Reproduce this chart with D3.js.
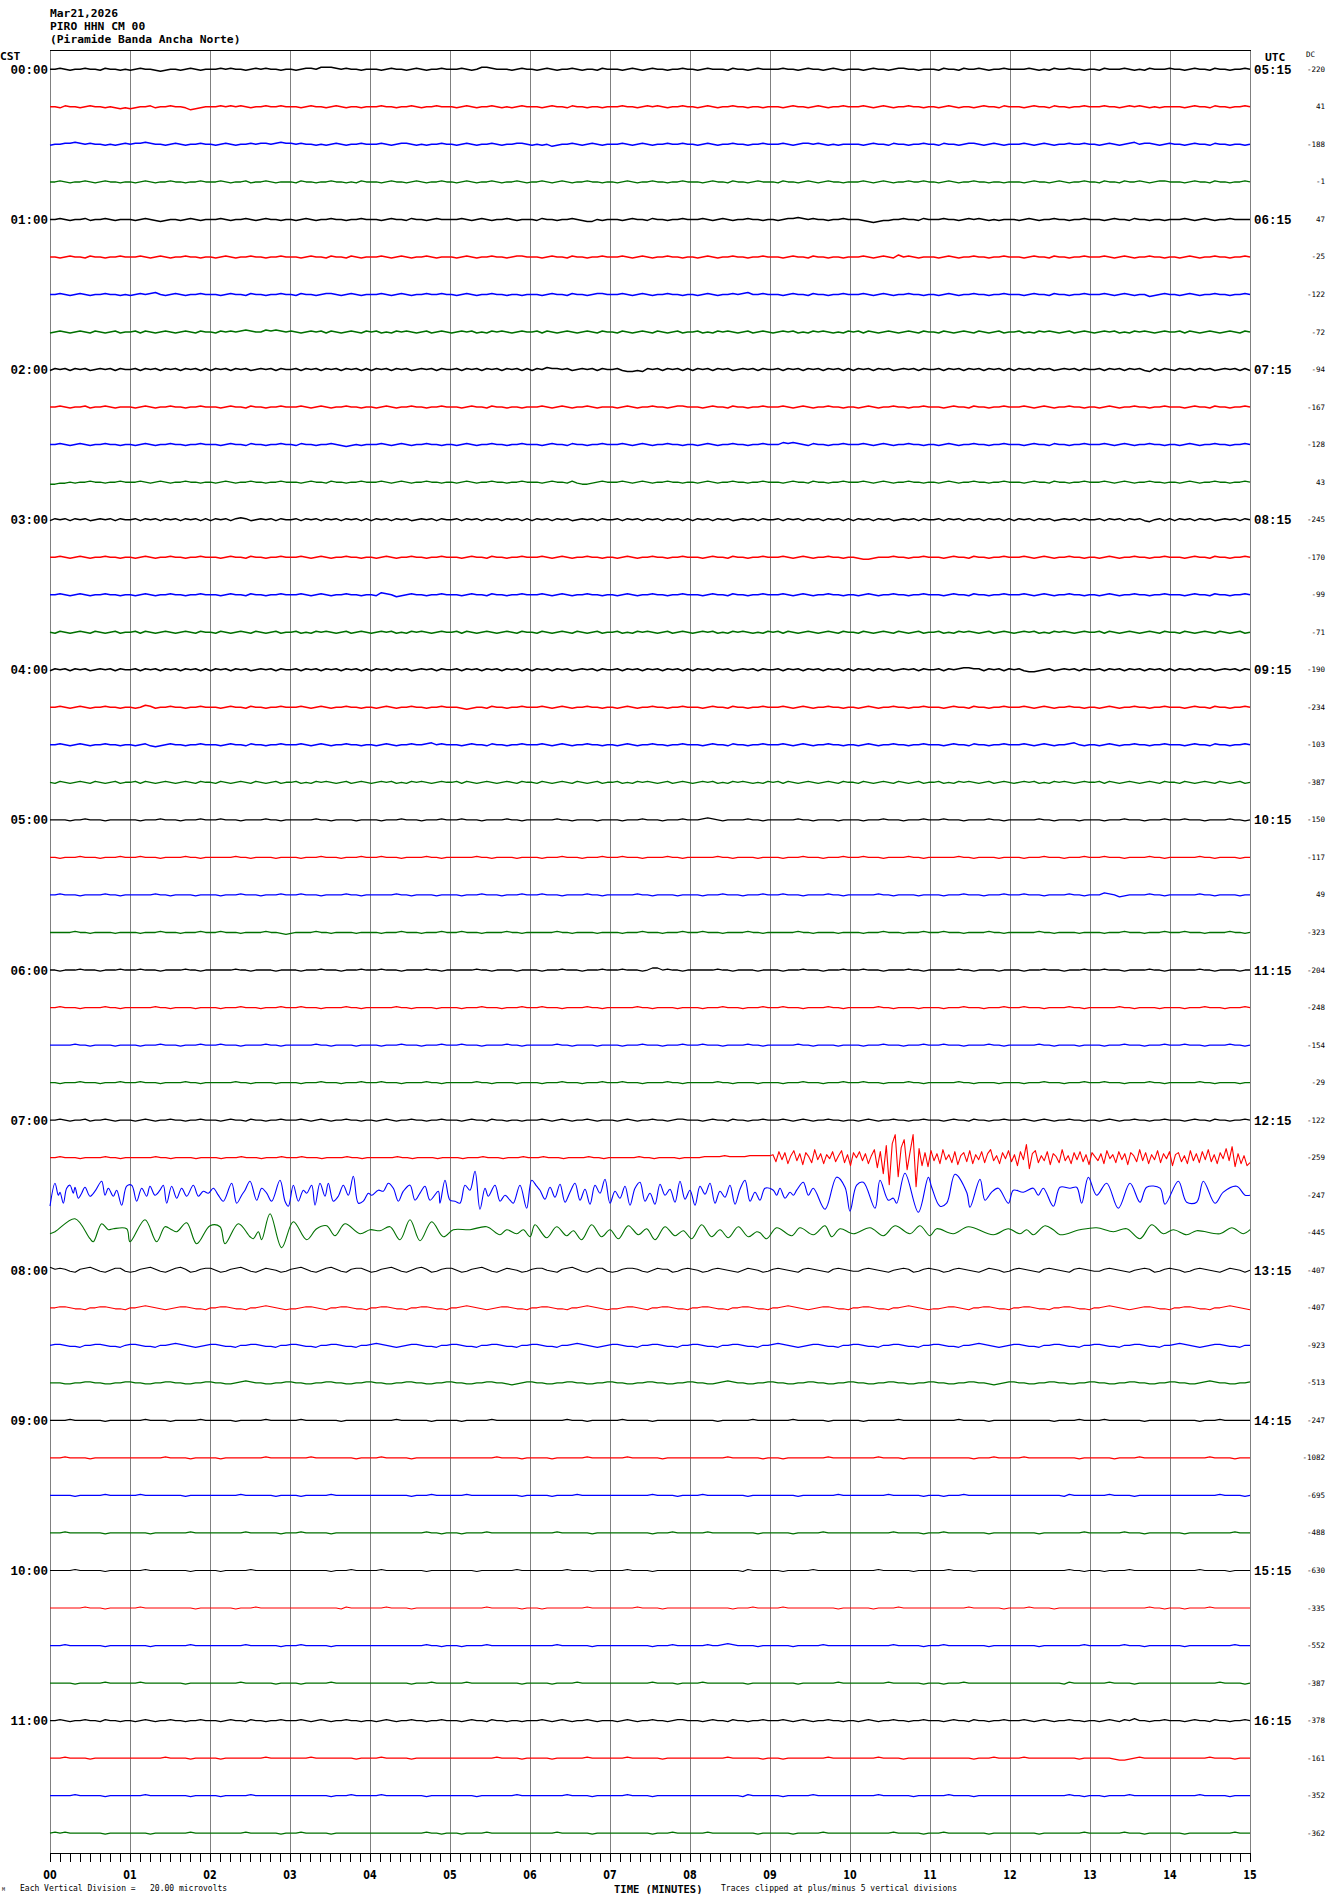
<!DOCTYPE html>
<html><head><meta charset="utf-8">
<script src="https://cdn.jsdelivr.net/npm/d3@7"></script>
<style>body{margin:0;background:#fff}text{white-space:pre}</style>
</head><body>
<svg id="chart" width="1330" height="1894"></svg>
<script>
// ---------------- DATA ----------------
const headerLines = ["Mar21,2026", "PIRO HHN CM 00", "(Piramide Banda Ancha Norte)"];
const cstLabels = ["00:00","01:00","02:00","03:00","04:00","05:00","06:00","07:00","08:00","09:00","10:00","11:00"];
const utcLabels = ["05:15","06:15","07:15","08:15","09:15","10:15","11:15","12:15","13:15","14:15","15:15","16:15"];
const minuteLabels = ["00","01","02","03","04","05","06","07","08","09","10","11","12","13","14","15"];
const dcValues = [-220,41,-188,-1,47,-25,-122,-72,-94,-167,-128,43,-245,-170,-99,-71,-190,-234,-103,-387,-150,-117,49,-323,-204,-248,-154,-29,-122,-259,-247,-445,-407,-407,-923,-513,-247,-1082,-695,-488,-630,-335,-552,-387,-378,-161,-352,-362];
const traceColors = ["#000000", "#ff0000", "#0000ff", "#007000"];

// uniform samples over the 15-minute line, digit - 5 = offset (upward positive)
const traceSamples = [
"5565455655465545 4565543455456545 5565655456565545 5456657776565545 5545655456545565 5565457765554565 5456545565455465 5545654565545565 5456555465545655 5565545655456545 5545655456655455 5465546556545565 5556545465565545 5465556545465556 5545655465545565",
"5546554565545434 3455645565542345 5565656545565565 5545655456545545 5565545565455655 5456545565454565 5545655465545545 5565545656545565 5456545565545545 5545655456545565 5565456545565545 5456545545655465 5545655465545565 5565545656545455 5545655465545565",
"4556676565545456 5667655456545565 5456545565665676 6565545456545565 5565456654545565 5456545565455665 4545345565456545 5565456545565565 5456545565545565 5565456656545455 5545655465545565 5465545665456545 5565456545565565 5456545675665456 5545655465545545",
"5565455654565545 5456545565545565 5565455645565455 5465545565545465 5545655456545565 5456545565455654 5565456545565545 5456545565545565 5545655465545655 5465545654565545 5565456545565565 5456545565545545 5545655456545565 5465546556545665 5545655465545565",
"5565455645565455 5456543455456545 5565455654565545 5456545565545565 5545655465545655 5565456545565455 5465545565433545 5545655465545565 5565456545565545 5456676565545565 5543234455655465 5565545656545455 5456545565545565 5545655465545545 5565456545565555",
"5545655465545565 5565456545565545 5456545565545565 5545655465546545 5565456545565455 5456545565545665 5545655465545565 5565456545565545 5456545565545565 5545655465545545 5565456547565455 5456545565545565 5545655465545565 5565456545565545 5456545565545565",
"5565456545565545 4565675456545565 5545655465545565 5465545665456545 5565456545565565 5456545565545545 5545655465545665 5565456545565545 5456545565675565 5545655465545565 5565456545565545 5456545565545565 5545655465545565 5565456545534565 5456545565545565",
"4565456546545645 5646545654565465 5465656765576765 6545656465456546 5645465654564565 4565645465654565 5646545654565465 5465456546545645 5645465654564565 4565645465654546 5646545654565465 5465456546545645 5645465654564565 4565645465654565 5646545654565465",
"4656465645656465 5646564656465646 4656465645656465 5646564656465646 4656465645656465 5646564656465646 4657665645656465 5643343656465646 4656465645656465 5646564656465646 4656465645656465 5646564656465646 4656465645656465 5646564656436465 4656465645656464",
"5565455645565455 5456545565545565 5545655465545565 5565456545565545 5456545565545565 5545655465545545 5565456545565455 5456545565545665 5545655465545565 5565456545565545 5456545565545565 5545655465545565 5565456545565545 5456545565545565 5545655465545565",
"5565456545565545 5456545565545565 5545655465545565 5465545565434545 5565456545565545 5456545565545565 5545655465545565 5565456545565545 5456545565545565 5576765465545565 5565456545565545 5456545565545565 5545655465545565 5565456545565545 5456545565545565",
"3344545565545565 5565456545565545 5456545565545565 5545655465545565 5565456545565545 5456545565545565 5545655464334565 5565456545565545 5456545565545565 5545655465545565 5565456545565545 5456545565545565 5545655465545565 5565456545565545 5456545565545565",
"4656465645656465 5646564656465646 4656467645656465 5646564656465646 4656465645656465 5646564656465646 4656465645656465 5646564656465646 4656465645656465 5646564656465646 4656465645656465 5646564656465646 4656465645656465 5646564656435646 4656465645656465",
"5565456545565545 5456545565545565 5545655465545565 5565456545565545 5456545565545565 5545655465545565 5565456545565545 5456545565545565 5545655465545565 5565456545565545 5433455565545565 5545655465545565 5565456545565545 5456545565545565 5545655465545565",
"5565456545565545 5456545565545565 5545655465545565 5565456545565545 5476534565545565 5545655465545565 5565456545565545 5456545565545565 5545655465545565 5565456545565545 5456545565545565 5545655465545565 5565456545565545 5456545565545565 5545655465545565",
"5465456546545645 5646545654565465 5465456546545645 5645465654564565 4565645465654565 5646545654565465 5465456546545645 5645465654564565 4565645465654546 5646545654565465 5465456546545645 5645465654564565 4565645465654565 5646545654565465 5465456546545645",
"4656465645656465 5646564656465646 4656465645656465 5646564656465646 4656465645656465 5646564656465646 4656465645656465 5646564656465646 4656465645656465 5646564656465646 4656465645656465 5646567766465646 5643345645656465 5646564656465646 4656465645656465",
"5565456545565545 5457645565545565 5545655465545565 5565456545565545 5456545565545565 5543455465545565 5565456545565545 5456545565545565 5545655465545565 5565456545565545 5456545565545565 5545655465545565 5565456545565545 5456545565545565 5545655465545565",
"5565456545565545 5456434565545565 5545655465545565 5565456545565545 5456545565567565 5545655465545565 5565456545565545 5456545565545565 5545655465545565 5565456545565545 5456545565545565 5545655465545565 5565456545567545 5456545565545565 5545655465545565",
"5465456546545645 5646545654565465 5465456546545645 5645465654564565 4565645465654565 5646545654565465 5465456546545645 5645465654564565 4565645465654546 5646545654565465 5465456546545645 5645465654564565 4565645465654565 5646545654565465 5465456546545645",
"5555455655545555 5545556555455565 5565554555565545 5555565545555455 5545556555455565 5565554555565545 5555565545555455 5545556555455565 5567654555565545 5555565545555455 5545556555455565 5565554555565545 5555565545555455 5545556555455565 5565554555565545",
"5545556555455565 5565554555565545 5555565545555455 5545556555455565 5565554555565545 5555565545555455 5545556555455565 5565554555565545 5555565545555455 5545556555455565 5565554555565545 5555565545555455 5545556555455565 5565554555565545 5555565545555455",
"5565554555565545 5555565545555455 5545556555455565 5565554555565545 5555565545555455 5545556555455565 5565554555565545 5555565545555455 5545556555455565 5565554555565545 5555565545555455 5545556555455565 5565554555565545 5576534555565545 5555565545555455",
"5555565545555455 5545556555455565 5565554555565543 4555565545555455 5545556555455565 5565554555565545 5555565545555455 5545556555455565 5565554555565545 5555565545555455 5545556555455565 5565554555565545 5555565545555455 5545556555455565 5565554555565545",
"5545556555455565 5565554555565545 5555565545555455 5545556555455565 5565554555565545 5555565545555455 5545556555455565 5565554577565545 5555565545555455 5545556555455565 5565554555565545 5555565545555455 5545556555455565 5565554555565545 5555565545555455",
"5565554555565545 5555565545555455 5545556555455565 5565554555565545 5555565545555455 5545556555455565 5565554555565545 5555565545555455 5545556555455565 5565554555565545 5555565545555455 5545556555455565 5565554555565545 5555565545555455 5545556555455565",
"5555565545555455 5545556555455565 5565554555565545 5555565545555455 5545556555455565 5565554555565545 5555565545555455 5545556555455565 5565554555565545 5555565545555455 5545556555455565 5565554555565545 5555565545555455 5545556555455565 5565554555565545",
"5545556555455565 5565554555565545 5555565545555455 5545556555455565 5565554555565545 5555565545555455 5545556555455565 5565554555565545 5555565545555455 5545556555455565 5565554555565545 5555565545555455 5545556555455565 5565554555565545 5555565545555455",
"5565455645565455 5456545565545565 5545655465545565 5565456545565545 5456545565545565 5545655465545545 5565456545565455 5456545565545665 5545655465545565 5565456545565545 5456545565545565 5545655465545565 5565456545565545 5456545565545565 5545655465545565",
"5565554555565545 5555565545555455 5545556555455565 5565554555565545 5555565545555455 5545556555455565 5565554555565545 5555565545555455 5566667666677777",
"",
"",
"8676436786435774 3467864357863467 7534678643576534 6786435786436775 3467864357863467 7534678643576534 6775436786435774 3467764357663467 6534676543576534 6765436765436765 4467654356763467 6534676543576534 6765436765436765 4467654356763467 6534676543576535",
"5566544355665443 5567654345665443 5566544355676543 4456654355665443 5566544355665443 5567654345665443 5566544355676543 4456654355665443 5566544355665443 5567654345665443 5566544355676543 4456654355665443 5566544355665443 5567654345665443 5566544355676543",
"5665443556654435 6654435567654345 6654435566544355 6654435566544355 6765434566544355 6654435566544355 6654435567654345 6654435566544355 6654435566544355 6765434566544355 6654435566544355 6654435567654345 6654435566544355 6654435566544355 6765434566544355",
"5554455665544556 6554455665544556 6554456765544556 6554455665544556 6554455665544556 6554455665543456 6554455665544556 6554455665544556 6554456765544556 6554455665544556 6554455665544556 6554455665543456 6554455665544556 6554455665544556 6554456765544556",
"5555655555545555 5556555545555565 5555545555565555 5565555555455555 5555565555554555 5545555565555555 5555555655545555 5565555545555555 5555545555556555 5555655555545555 5545555556555555 5555565555545555 5555555545555655 5565555555455555 5555545556555555",
"5556555545555555 5555555655554555 5545555555565555 5555655555555455 5565555545555555 5555555556555545 5555455555565555 5556555555455555 5555555655555545 5545555555565555 5555565555455555 5555555545556555 5565555555555455 5555455556555555 5555555655554555",
"5555545555565555 5565555555545555 5555556555555455 5545555565555555 5555555545556555 5556555555555545 5555455556555555 5555555565555455 5565555555545555 5555545555555655 5555555655555545 5545556555555555 5555555555465555 5556555545555555 5555555556555545",
"5556555555545555 5555455555556555 5555555655555545 5565555545555555 5555555555565545 5545555655555555 5555565555554555 5555555545556555 5556555555555455 5555455555655555 5555555565555545 5565555555545555 5555545555555565 5555556555455555 5545555555556555",
"5555565555545555 5556555555554555 5545555565555555 5555555545556555 5565555555545555 5555545555555655 5555555655554555 5556555545555555 5555555555465555 5545555565555555 5555565555554555 5556555545555555 5555555555565545 5545555655555555 5555565555545555",
"5555555655545555 5565555555555455 5555545556555555 5555555555465555 5556555545555555 5555555655555545 5545555555565555 5555565555455555 5555555545556555 5565555555555455 5555455556555555 5555555655555545 5556555545555555 5555555555565545 5545555655555555",
"5556555555545555 5555455555556555 5555555655555545 5565555545555555 5555555555565545 5545555655555555 5555565555554555 5555555545556555 5556556765555455 5555455555655555 5555555565555545 5565555555545555 5555545555555565 5555556555455555 5545555555556555",
"5555545555565555 5565555555545555 5555556555555455 5545555565555555 5555555545556555 5556555555555545 5555455556555555 5555555565555455 5565555555545555 5555545555555655 5555555655555545 5545556555555555 5555555555465555 5556555545555555 5555555556555545",
"5565455655465545 5456545565545565 5545655465545565 5565456545565545 5456545565545565 5545655465545545 5565456545565455 5456545565545665 5545655465545565 5565456545565545 5456545565545565 5545655465545565 5565456545565545 5456546575545565 5545655465545565",
"5556555545555555 5555555655554555 5545555555565555 5555655555555455 5565555545555555 5555555556555545 5555455555565555 5556555555455555 5555555655555545 5545555555565555 5555565555455555 5555555545556555 5565555555555455 5555433456555555 5555555655554555",
"5555565555545555 5556555555554555 5545555565555555 5555555545556555 5565555555545555 5555545555555655 5555555655554555 5556555545555555 5555555555465555 5545555565555555 5555565555554555 5556555545555555 5555555555565545 5545555655555555 5555565555545555",
"5656555555545555 5555455555556555 5555555655555545 5565555545555555 5555555555565545 5545555655555555 5555565555554555 5555555545556555 5556555555555455 5555455555655555 5555555565555545 5565555555545555 5555545555555565 5555556555455555 5545555555556555"
];

// 07:15 red trace after 09:00 (seconds 540..900), sampled evenly
const redActive = [3,-4,6,-2,5,-6,2,7,-3,4,-7,5,1,-5,8,-2,4,-6,3,-1,6,-4,2,7,-5,3,-8,5,0,6,-3,4,-6,2,8,
-10,6,-16,12,-27,14,23,-19,10,18,-12,6,23,-29,9,-8,
5,-9,7,-3,4,-6,8,-2,3,-5,6,-7,2,5,-4,7,-6,3,-2,6,-5,4,8,-3,2,-6,5,-1,7,-4,3,-8,6,-2,13,-11,4,7,-5,2,
-3,6,-7,4,1,-5,8,-3,2,-6,5,-2,6,-4,3,-7,5,1,-3,4,-6,7,-1,3,-5,6,-2,4,-7,5,2,-4,8,-3,5,-6,3,-2,7,-5,
4,-1,6,-8,3,5,-4,2,-6,7,-3,4,-5,6,-2,8,-4,3,-6,5,-1,9,-3,11,-9,4,-6,2,-8,-5];

// 07:30 blue trace: [seconds, offset]
const blueKnots = [[0,-11],[3.75,12],[6.25,0],[7.5,3],[10,-8],[12.5,7],[15,10],[17.5,2],[18.75,8],[21.25,-3],[23.75,2],[26.25,8],[30,-1],[33.75,4],[38.75,14],[41.25,0],[43.75,7],[47.5,-1],[50,5],[53.75,-10],[57.5,9],[61.25,10],[65,-6],[68.75,7],[72.5,-1],[75,9],[78.75,0],[82.5,5],[85,10],[87.5,-8],[91.25,9],[95,-3],[98.75,7],[102.5,-1],[107.5,10],[111.25,-1],[115,4],[118.75,2],[122.5,7],[126.25,0],[130,-6],[136.25,12],[140,-8],[143.75,0],[146.25,5],[150,14],[155,-5],[158.75,7],[162.5,2],[166.25,-6],[172.5,15],[176.25,-6],[178.75,-11],[182.5,10],[186.25,-6],[190,5],[192.5,2],[196.25,10],[198.75,-10],[202.5,12],[206.25,-1],[208.75,12],[212.5,-6],[216.25,-1],[220,10],[223.75,0],[227.5,19],[231.25,-8],[235,-6],[238.75,2],[241.25,0],[246.25,5],[250,4],[253.75,12],[257.5,7],[261.25,-6],[265,4],[270,10],[273.75,-5],[277.5,2],[281.25,9],[285,-5],[291.25,4],[292.5,-8],[296.25,15],[300,-5],[303.75,-6],[307.5,-8],[311.25,10],[315,5],[318.75,24],[322.5,-14],[326.25,7],[328.75,-1],[333.75,10],[337.5,-6],[341.25,0],[345,-5],[347.5,-8],[352.5,10],[357.5,-13],[361.25,15],[365,9],[367.5,5],
[371.25,-4],[375,8],[378.75,-2],[382.5,11],[386.25,-7],[390,3],[393.75,12],[397.5,-5],[401.25,6],[405,-9],[408.75,10],[412.5,2],[416.25,16],[420,-8],[423.75,4],[427.5,-3],[431.25,9],[435,-10],[438.75,7],[442.5,13],[446.25,-6],[450,2],[453.75,-9],[457.5,11],[461.25,0],[465,6],[468.75,-7],[472.5,14],[476.25,-4],[480,5],[483.75,-10],[487.5,9],[491.25,1],[495,12],[498.75,-8],[502.5,4],[506.25,-2],[510,10],[513.75,-9],[517.5,6],[521.25,15],[525,-6],[528.75,3],
[532.5,-5],[536.25,7],[542.5,5],[545,0],[547.5,7],[551.25,-3],[555,3],[557.5,0],[560,5],[565,13],[568.75,0],[572.5,7],[581.25,-14],[590,18],[596.25,8],[600,-16],[605,10],[610,13],[618.75,-13],[622.5,15],[628.75,-5],[632.5,-3],[635,-8],[641.25,22],[651.25,-17],[658.75,18],[661.25,8],[667.5,-11],[672.5,-8],[678.75,21],[687.5,3],[690,-12],[697.5,16],[701.25,-5],[706.25,3],[711.25,7],[718.75,-8],[722.5,5],[730,3],[737.5,7],[741.25,0],[745,7],[752.5,-11],[757.5,8],[765,7],[770,8],[773.75,-8],[778.75,18],[785,0],[792.5,12],[801.25,-13],[810,12],[817.5,-7],[822.5,8],[832.5,7],[836.25,-9],[846.25,14],[852.5,-7],[860,-7],[865,14],[873.75,-8],[880,3],[890,9],[896.25,0],[900,0]];

// 07:45 green trace: [seconds, offset]
const greenKnots = [[0,-1],[3.75,1],[18.75,14],[30,-6],[32.5,-9],[38.75,9],[43.75,3],[47.5,4],[57.5,4],[60,-9],[71.25,13],[80,-9],[86.25,6],[91.25,3],[95,1],[102.5,10],[110,-11],[120,7],[127.5,6],[131.25,-11],[141.25,9],[150,-4],[152.5,-6],[156.25,1],[158.75,-7],[165,19],[173.75,-15],[182.5,11],[192.5,-7],[200,4],[207.5,7],[213.75,-3],[221.25,9],[232.5,-1],[240,3],[247.5,2],[255,6],[262.5,-7],[270,13],[277.5,-8],[286.25,11],[295,-4],[302.5,3],[315,3],[327.5,6],[337.5,-2],[342.5,3],[350,-1],[355,3],[360,-4],[363.75,8],
[372.5,-5],[380,6],[387.5,-3],[392.5,2],[398.75,-7],[406.25,8],[413.75,-4],[420,3],[426.25,-6],[433.75,7],[441.25,-2],[447.5,4],[453.75,-7],[461.25,6],[468.75,-3],[475,2],[481.25,-6],[488.75,8],[496.25,-4],[502.5,3],[508.75,-5],[516.25,6],[523.75,-4],[530,1],
[532.5,0],[537.5,-6],[545,5],[556.25,-3],[562.5,5],[572.5,-2],[581.25,7],[586.25,-4],[592.5,4],[602.5,-1],[615,5],[625,-3],[633.75,7],[645,-1],[652.5,7],[660,-3],[665,4],[677.5,-1],[688.75,6],[707.5,-2],[718.75,4],[727.5,-1],[732.5,3],[737.5,-2],[746.25,7],[752.5,3],[757.5,-2],[772.5,3],[785,5],[797.5,1],[807.5,4],[817.5,-6],[826.25,8],[835,-1],[842.5,3],[852.5,-2],[860,2],[877.5,-1],[886.25,5],[895,-1],[900,3]];

// ---------------- DRAWING ----------------
const svg = d3.select("#chart");
const plotL = 50, plotR = 1250, plotT = 50, axisY = 1853;
const x = d3.scaleLinear().domain([0, 900]).range([plotL, plotR]);          // seconds
const row = d3.scaleLinear().domain([0, 47]).range([69.3, 1833.2]);         // trace index -> baseline
const amp = d3.scaleLinear().domain([-10, 10]).range([10, -10]);            // offset -> px

svg.append("rect").attr("width", 1330).attr("height", 1894).attr("fill", "#fff");

// minute grid lines
svg.append("g").selectAll("line").data(d3.range(0, 16)).join("line")
  .attr("x1", d => x(d * 60) + 0.5).attr("x2", d => x(d * 60) + 0.5)
  .attr("y1", plotT).attr("y2", axisY)
  .attr("stroke", "#808080").attr("stroke-width", 1);

// top border
svg.append("line").attr("x1", plotL).attr("x2", plotR + 1).attr("y1", plotT + 0.5).attr("y2", plotT + 0.5)
  .attr("stroke", "#000").attr("stroke-width", 1);

function parseSamples(s) { return s.replace(/\s+/g, "").split("").map(c => +c - 5); }
function rowPoints(i) {
  if (i === 30) return blueKnots;
  if (i === 31) return greenKnots;
  const vals = parseSamples(traceSamples[i]);
  const span = i === 29 ? 540 : 900;
  const step = span / (vals.length - 1);
  let pts = vals.map((v, k) => [k * step, v]);
  if (i === 29) {
    const st = 360 / redActive.length;
    pts = pts.concat(redActive.map((v, k) => [540 + (k + 1) * st, v]));
  }
  return pts;
}

const traces = svg.append("g").attr("fill", "none");
d3.range(48).forEach(i => {
  const base = row(i);
  const line = d3.line().x(d => x(d[0])).y(d => base + amp(d[1]));
  if (i === 30 || i === 31) line.curve(d3.curveCatmullRom.alpha(0.5));
  const sw = i < 20 ? 1.5 : (i < 29 ? 1.3 : (i < 32 ? 1.1 : 1.2));
  traces.append("path").attr("d", line(rowPoints(i)))
    .attr("stroke", traceColors[i % 4]).attr("stroke-width", sw)
    .attr("stroke-linejoin", "round");
});

// header text
const hdr = svg.append("g").attr("font-family", "DejaVu Sans Mono, monospace")
  .attr("font-weight", "bold").attr("font-size", 11.3).attr("fill", "#000");
headerLines.forEach((t, k) => hdr.append("text").attr("x", 50).attr("y", [17, 30, 43][k]).text(t));
hdr.append("text").attr("x", 0).attr("y", 60).text("CST");
hdr.append("text").attr("x", 1265).attr("y", 61).text("UTC");

// hour labels
const hl = svg.append("g").attr("font-family", "Liberation Mono, monospace")
  .attr("font-weight", "bold").attr("font-size", 12.5).attr("fill", "#000");
cstLabels.forEach((t, k) => hl.append("text").attr("x", 48).attr("y", row(k * 4) + 4.5)
  .attr("text-anchor", "end").text(t));
utcLabels.forEach((t, k) => hl.append("text").attr("x", 1254).attr("y", row(k * 4) + 4.5).text(t));

// DC column
const dc = svg.append("g").attr("font-family", "DejaVu Sans Mono, monospace")
  .attr("font-size", 7.5).attr("fill", "#000");
dc.append("text").attr("x", 1306).attr("y", 57).text("DC");
dcValues.forEach((v, i) => dc.append("text").attr("x", 1325).attr("y", row(i) + 2.5)
  .attr("text-anchor", "end").text(String(v)));

// bottom axis
const minorTicks = d3.range(0, 900.001, 7.5);
const ax = svg.append("g").attr("transform", `translate(0,${axisY})`)
  .call(d3.axisBottom(x).tickValues(minorTicks).tickSize(9).tickSizeOuter(0).tickFormat(""));
ax.selectAll("path,line").attr("stroke", "#000");

const ml = svg.append("g").attr("font-family", "DejaVu Sans, sans-serif")
  .attr("font-weight", "bold").attr("font-size", 12).attr("fill", "#000");
minuteLabels.forEach((t, i) => ml.append("text")
  .attr("transform", `translate(${x(i * 60)},1878.5) scale(0.8,1)`)
  .attr("text-anchor", "middle").text(t));

svg.append("text").attr("x", 614).attr("y", 1893).attr("font-family", "DejaVu Sans Mono, monospace")
  .attr("font-weight", "bold").attr("font-size", 10.5).text("TIME (MINUTES)");
const foot = svg.append("g").attr("font-family", "DejaVu Sans Mono, monospace").attr("font-size", 8).attr("fill", "#000");
foot.append("text").attr("x", 20).attr("y", 1891).text("Each Vertical Division =   20.00 microvolts");
foot.append("text").attr("x", 721).attr("y", 1891).text("Traces clipped at plus/minus 5 vertical divisions");
foot.append("text").attr("x", 2).attr("y", 1891).attr("font-size", 5).text("M");
</script>
</body></html>
